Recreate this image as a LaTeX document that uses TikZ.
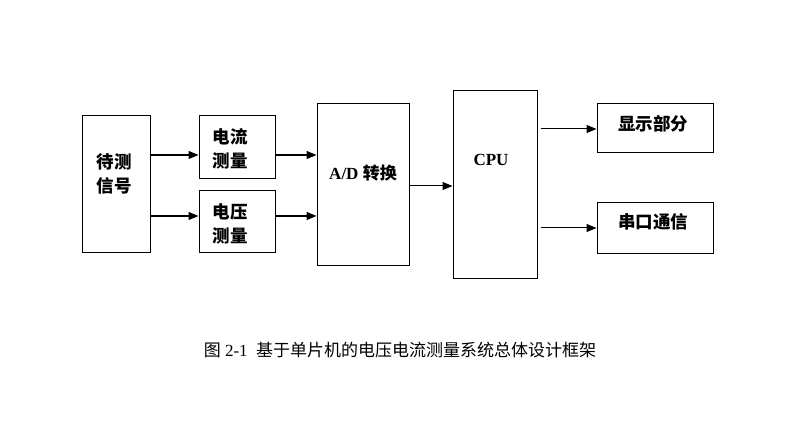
\documentclass[tikz,border=0pt]{standalone}
\usepackage{fontspec}
\setmainfont{Liberation Serif}
\newfontfamily\cjk{Noto Sans CJK SC}
\usetikzlibrary{arrows.meta}

\tikzset{
    blk/.style={draw, line width=1pt, inner sep=0pt},
    txt/.style={font=\cjk\bfseries\fontsize{17.5}{24}\selectfont, align=center},
    arr/.style={line width=1.2pt, -{Triangle[length=10pt,width=8pt]}},
    thinarr/.style={arr, line width=1pt}
}

\begin{document}
\begin{tikzpicture}[x=1pt, y=-1pt]
    \useasboundingbox (0,0) rectangle (787,430);

    % left part
    \node[blk, minimum width=68pt, minimum height=137pt] (src) at (116,184.5) {};
    \node[txt] (srctxt) at (114,174) {待测\\信号};

    \node[blk, minimum width=76pt, minimum height=63pt] (cur) at (237,147.5) {};
    \node[txt] (curtxt) at (230,149) {电流\\测量};

    \node[blk, minimum width=76pt, minimum height=62pt] (vol) at (237,222) {};
    \node[txt] (voltxt) at (230,224) {电压\\测量};

    \draw[arr] (src.east |- 0,155) -- (cur.west |- 0,155);
    \draw[arr] (src.east |- 0,216) -- (vol.west |- 0,216);

    % converter and cpu
    \node[blk, minimum width=92pt, minimum height=162pt] (adc) at (363,185) {};
    \node[font=\bfseries\fontsize{17}{20}\selectfont] (adctxt) at (363,173) {A/D {\cjk 转换}};

    \draw[arr] (cur.east |- 0,155) -- (adc.west |- 0,155);
    \draw[arr] (vol.east |- 0,216) -- (adc.west |- 0,216);

    \node[blk, minimum width=84pt, minimum height=188pt] (cpu) at (495,185) {};
    \node[font=\bfseries\fontsize{17}{20}\selectfont] (cputxt) at (491,160) {CPU};

    \draw[thinarr] (adc.east |- 0,186) -- (cpu.west |- 0,186);

    % outputs
    \node[blk, minimum width=116pt, minimum height=49pt] (disp) at (655,128.5) {};
    \node[txt] (disptxt) at (653,124) {显示部分};

    \node[blk, minimum width=116pt, minimum height=51pt] (ser) at (655,228.5) {};
    \node[txt] (sertxt) at (653,222) {串口通信};

    \draw[thinarr] ([xshift=3pt]cpu.east |- 0,129) -- (disp.west |- 0,129);
    \draw[thinarr] ([xshift=3pt]cpu.east |- 0,228) -- (ser.west |- 0,228);

    \node[font=\fontsize{17}{20}\selectfont] (cap) at (400,350)
        {{\cjk 图} 2-1\ \ {\cjk 基于单片机的电压电流测量系统总体设计框架}};
\end{tikzpicture}
\end{document}
